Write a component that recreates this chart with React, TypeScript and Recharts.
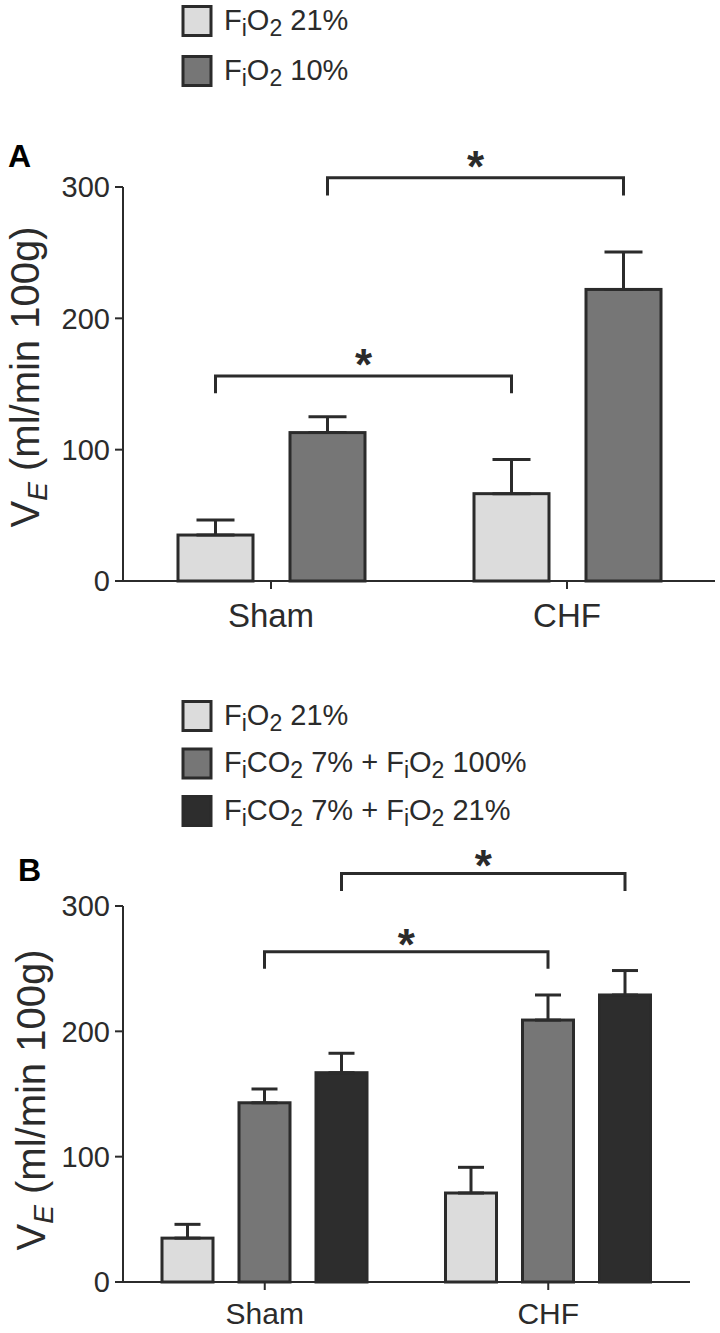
import React from 'react';
import { BarChart, Bar, XAxis, YAxis, ErrorBar } from 'recharts';

const categories = ['Sham', 'CHF'];

// Panel A: FiO2 21% vs 10%
const aFio21 = [35, 66.5];
const aFio21Err = [11.5, 26];
const aFio10 = [113, 222];
const aFio10Err = [12, 28.5];

// Panel B: FiO2 21%, FiCO2 7% + FiO2 100%, FiCO2 7% + FiO2 21%
const bFio21 = [35, 71];
const bFio21Err = [11, 20.5];
const bCo2O2100 = [143, 209];
const bCo2O2100Err = [11, 20];
const bCo2O221 = [167, 229];
const bCo2O221Err = [15.5, 19.5];

const yTicks = [0, 100, 200, 300];

const legendA = ['F_iO_2 21%', 'F_iO_2 10%'];
const legendB = ['F_iO_2 21%', 'F_iCO_2 7% + F_iO_2 100%', 'F_iCO_2 7% + F_iO_2 21%'];

// significance brackets (Sham -> CHF, same series): [line level, leg end]
const bracketA21 = [156, 143];
const bracketA10 = [307, 293.5];
const bracketB100 = [263.5, 250];
const bracketB21 = [326, 312];

const INK = '#2b2b2b';
const LIGHT = '#dcdcdc';
const MID = '#767676';
const DARK = '#2d2d2d';
const FONT = '"Liberation Sans", Arial, Helvetica, sans-serif';

const dataA = categories.map((name, i) => ({
  name,
  fio21: aFio21[i],
  fio21Err: [0, aFio21Err[i]],
  fio10: aFio10[i],
  fio10Err: [0, aFio10Err[i]],
}));

const dataB = categories.map((name, i) => ({
  name,
  fio21: bFio21[i],
  fio21Err: [0, bFio21Err[i]],
  co2o2100: bCo2O2100[i],
  co2o2100Err: [0, bCo2O2100Err[i]],
  co2o221: bCo2O221[i],
  co2o221Err: [0, bCo2O221Err[i]],
}));

const W = 720;
const Y_AXIS_W = 123;
const marginA = { top: 187, right: 5, bottom: 0, left: 0 };
const marginB = { top: 206, right: 30, bottom: 0, left: 0 };
const bandA = (W - marginA.left - marginA.right - Y_AXIS_W) / categories.length;
const bandB = (W - marginB.left - marginB.right - Y_AXIS_W) / categories.length;

const barShape = (key: string, band: number, bracket?: number[], starGap = 18) => (props: any) => {
  const { x, y, width, height, fill, index, payload } = props;
  const base = y + height;
  const perUnit = height / payload[key];
  const cx = x + width / 2;
  let extra = null;
  if (bracket && index === 0) {
    const top = base - bracket[0] * perUnit;
    const leg = base - bracket[1] * perUnit;
    extra = (
      <g>
        <path
          d={`M${cx},${leg} V${top} H${cx + band} V${leg}`}
          fill="none"
          stroke={INK}
          strokeWidth={3}
        />
        <text
          x={cx + band / 2}
          y={top - starGap + 22}
          textAnchor="middle"
          fontSize={44}
          fontWeight="bold"
          fontFamily={FONT}
          fill={INK}
        >
          *
        </text>
      </g>
    );
  }
  return (
    <g>
      <rect x={x} y={y} width={width} height={height} fill={fill} stroke={INK} strokeWidth={3} />
      {extra}
    </g>
  );
};

const Rich = ({ text, size = 23, drop = 6 }: { text: string; size?: number; drop?: number }) => {
  const parts = text.split(/_(.)/);
  return (
    <>
      {parts.map((p, i) =>
        i % 2 ? (
          <tspan key={i} fontSize={size} dy={drop}>
            {p}
          </tspan>
        ) : (
          <tspan key={i} dy={i > 0 ? -drop : 0}>
            {p}
          </tspan>
        )
      )}
    </>
  );
};

const yLabel = (labelX: number, shift: number) => (props: any) => {
  const vb = props.viewBox;
  const x = vb.x + labelX;
  const y = vb.y + vb.height / 2 + shift;
  return (
    <text
      x={x}
      y={y}
      transform={`rotate(-90, ${x}, ${y})`}
      textAnchor="middle"
      fontSize={40}
      fontFamily={FONT}
      fill={INK}
    >
      V
      <tspan fontSize={28} fontStyle="italic" dy={8}>
        E
      </tspan>
      <tspan dy={-8}> (ml/min 100g)</tspan>
    </text>
  );
};

const Legend = ({ items, colors, top, step }: { items: string[]; colors: string[]; top: number; step: number }) => (
  <g>
    {items.map((t, i) => (
      <g key={t}>
        <rect x={183} y={top + i * step + 1.5} width={28} height={29} fill={colors[i]} stroke={INK} strokeWidth={3} />
        <text x={224} y={top + i * step + 24.5} fontSize={29} fontFamily={FONT} fill={INK}>
          <Rich text={t} />
        </text>
      </g>
    ))}
  </g>
);

const axisProps = {
  axisLine: { stroke: INK, strokeWidth: 2 },
  tickLine: { stroke: INK, strokeWidth: 2 },
  tickSize: 8,
};

export default function App() {
  return (
    <div style={{ position: 'absolute', left: 0, top: 0, width: W, height: 1333, background: '#fff' }}>
      <div style={{ position: 'absolute', left: 0, top: 0 }}>
        <BarChart width={W} height={640} data={dataA} margin={marginA} barSize={75} barGap={37}>
          <XAxis
            dataKey="name"
            {...axisProps}
            tickMargin={15}
            height={59}
            interval={0}
            tick={{ fontSize: 33, fill: INK, fontFamily: FONT }}
          />
          <YAxis
            domain={[0, 300]}
            ticks={yTicks}
            width={Y_AXIS_W}
            {...axisProps}
            tickMargin={5}
            tick={{ fontSize: 29, fill: INK, fontFamily: FONT }}
            label={{ content: yLabel(39, -7) }}
          />
          <Bar dataKey="fio21" fill={LIGHT} isAnimationActive={false} shape={barShape('fio21', bandA, bracketA21)}>
            <ErrorBar dataKey="fio21Err" width={19} stroke={INK} strokeWidth={3} />
          </Bar>
          <Bar dataKey="fio10" fill={MID} isAnimationActive={false} shape={barShape('fio10', bandA, bracketA10)}>
            <ErrorBar dataKey="fio10Err" width={19} stroke={INK} strokeWidth={3} />
          </Bar>
        </BarChart>
      </div>
      <div style={{ position: 'absolute', left: 0, top: 700 }}>
        <BarChart width={W} height={633} data={dataB} margin={marginB} barSize={51} barGap={26}>
          <XAxis
            dataKey="name"
            {...axisProps}
            tickMargin={13}
            height={51}
            interval={0}
            tick={{ fontSize: 30, fill: INK, fontFamily: FONT }}
          />
          <YAxis
            domain={[0, 300]}
            ticks={yTicks}
            width={Y_AXIS_W}
            {...axisProps}
            tickMargin={5}
            tick={{ fontSize: 29, fill: INK, fontFamily: FONT }}
            label={{ content: yLabel(45, 6) }}
          />
          <Bar dataKey="fio21" fill={LIGHT} isAnimationActive={false} shape={barShape('fio21', bandB)}>
            <ErrorBar dataKey="fio21Err" width={13} stroke={INK} strokeWidth={3} />
          </Bar>
          <Bar
            dataKey="co2o2100"
            fill={MID}
            isAnimationActive={false}
            shape={barShape('co2o2100', bandB, bracketB100, 14)}
          >
            <ErrorBar dataKey="co2o2100Err" width={13} stroke={INK} strokeWidth={3} />
          </Bar>
          <Bar
            dataKey="co2o221"
            fill={DARK}
            isAnimationActive={false}
            shape={barShape('co2o221', bandB, bracketB21, 14)}
          >
            <ErrorBar dataKey="co2o221Err" width={13} stroke={INK} strokeWidth={3} />
          </Bar>
        </BarChart>
      </div>
      <svg width={W} height={1333} style={{ position: 'absolute', left: 0, top: 0, pointerEvents: 'none' }}>
        <Legend items={legendA} colors={[LIGHT, MID]} top={5} step={50} />
        <Legend items={legendB} colors={[LIGHT, MID, DARK]} top={700} step={47.5} />
        <text x={8} y={167} fontSize={32} fontWeight="bold" fontFamily={FONT} fill="#000">
          A
        </text>
        <text x={18} y={881} fontSize={32} fontWeight="bold" fontFamily={FONT} fill="#000">
          B
        </text>
      </svg>
    </div>
  );
}
